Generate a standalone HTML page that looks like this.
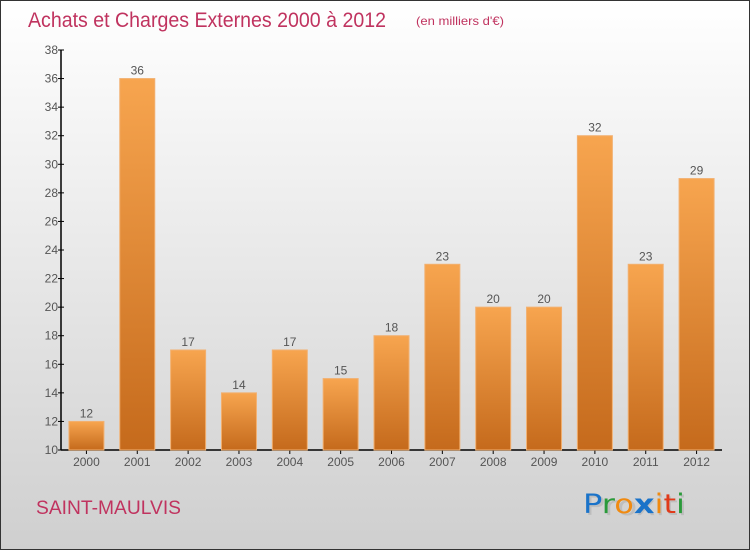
<!DOCTYPE html>
<html><head><meta charset="utf-8"><style>
body{margin:0}
#wrap{position:relative;width:750px;height:550px;box-sizing:border-box;border:1px solid #333;background:linear-gradient(#ffffff,#cfcfcf);font-family:"Liberation Sans",sans-serif;overflow:hidden}
</style></head><body>
<div id="wrap">
<svg id="chart" width="750" height="550" style="position:absolute;left:-1px;top:-1px">
<defs><linearGradient id="bg" x1="0" y1="0" x2="0" y2="1"><stop offset="0" stop-color="#f7a54f"/><stop offset="1" stop-color="#c56a1c"/></linearGradient></defs>
<text x="28" y="27" font-size="21" fill="#c0335f" textLength="358" lengthAdjust="spacingAndGlyphs">Achats et Charges Externes 2000 à 2012</text>
<text x="416" y="25" font-size="12" fill="#c0335f" textLength="88" lengthAdjust="spacingAndGlyphs">(en milliers d'€)</text>
<text x="36" y="514" font-size="19" fill="#c0335f" textLength="145" lengthAdjust="spacingAndGlyphs">SAINT-MAULVIS</text>
<g font-size="27" font-family="'DejaVu Sans',sans-serif">
<text x="585" y="515" fill="#aaa" opacity="0.5" textLength="102" lengthAdjust="spacingAndGlyphs">Proxiti</text>
<text x="583" y="513" textLength="102" lengthAdjust="spacingAndGlyphs"><tspan fill="#1a73c9">P</tspan><tspan fill="#2a9a3a">r</tspan><tspan fill="#f08a10">o</tspan><tspan fill="#1a73c9" font-weight="bold">x</tspan><tspan fill="#f08a10">i</tspan><tspan fill="#e03a1a">t</tspan><tspan fill="#2a9a3a">i</tspan></text>
</g>
<g id="axes"></g><g id="bars"></g>
</svg>
</div>
<script>
const years=["2000","2001","2002","2003","2004","2005","2006","2007","2008","2009","2010","2011","2012"];
const values=[12,36,17,14,17,15,18,23,20,20,32,23,29];
const yTicks=[10,12,14,16,18,20,22,24,26,28,30,32,34,36,38];
const NS="http://www.w3.org/2000/svg";
const x0=61,x1=722,yTop=50,yBot=450,yMin=10,yMax=38;
const band=(x1-x0)/years.length;
const y=v=>yBot-(v-yMin)/(yMax-yMin)*(yBot-yTop);
const xc=i=>x0+band*(i+0.5);
function mk(t,a,p){const e=document.createElementNS(NS,t);for(const k in a)e.setAttribute(k,a[k]);p.appendChild(e);return e;}
const ax=document.getElementById('axes'),bg=document.getElementById('bars');
const yl=mk('line',{x1:x0,y1:yTop,x2:x0,y2:yBot,stroke:'#000','stroke-width':1.5},ax);


const xl=mk('line',{x1:x0,y1:yBot,x2:x1,y2:yBot,stroke:'#000','stroke-width':1.5},ax);


yTicks.forEach(v=>{
 mk('line',{x1:x0-3,y1:y(v),x2:x0+3,y2:y(v),stroke:'#000'},ax);
 const t=mk('text',{x:x0-3,y:y(v)+4,'text-anchor':'end','font-size':12,fill:'#555'},ax);
 t.textContent=v;
 
 
});
years.forEach((yr,i)=>{
 const cx=xc(i),w=35;
 const r=mk('rect',{x:cx-w/2,y:y(values[i]),width:w,height:yBot-y(values[i]),fill:'url(#bg)',stroke:'#f2b070','stroke-width':1},bg);
 
 
 const l=mk('text',{x:cx,y:y(values[i])-4,'text-anchor':'middle','font-size':12,fill:'#555'},bg);
 l.textContent=values[i];
 
 
 mk('line',{x1:cx,y1:yBot,x2:cx,y2:yBot+4,stroke:'#000'},ax);
 const t=mk('text',{x:cx,y:yBot+16,'text-anchor':'middle','font-size':12,fill:'#555'},ax);
 t.textContent=yr;
 
 
});
</script>
</body></html>
